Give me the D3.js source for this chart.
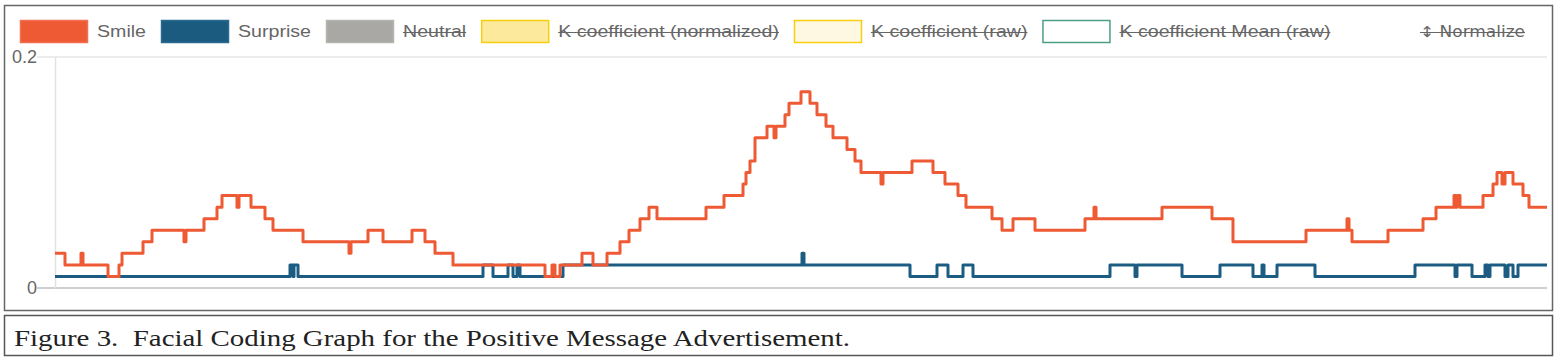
<!DOCTYPE html>
<html><head><meta charset="utf-8">
<script src="https://cdn.jsdelivr.net/npm/d3@7"></script>
<style>body{margin:0;background:#fff} svg{display:block}</style>
</head><body>
<svg id="c" width="1557" height="362"></svg>
<script>
// ---------- data ----------
const frameCount = 1492;
const yTicks = [0, 0.2];
const yTickLabels = ["0", "0.2"];
const legendLabels = ["Smile", "Surprise", "Neutral", "K coefficient (normalized)", "K coefficient (raw)", "K coefficient Mean (raw)"];
const legendHidden = [false, false, true, true, true, true];
const normalizeLabel = "↕ Normalize";
const captionText = "Figure 3.  Facial Coding Graph for the Positive Message Advertisement.";

const smileFrames = [0,10,26,28,53,64,67,88,97,129,131,149,162,167,182,184,196,210,218,248,294,296,313,328,357,370,380,398,490,497,500,505,527,538,552,565,574,585,594,602,651,669,688,691,695,700,712,719,721,730,734,746,755,762,771,778,792,800,806,826,828,857,878,890,903,911,937,947,958,980,1030,1039,1041,1107,1157,1178,1251,1292,1294,1297,1333,1368,1381,1399,1401,1402,1405,1428,1438,1442,1447,1450,1458,1468,1474,1492];
const smileValues = [0.03,0.02,0.03,0.02,0.01,0.02,0.03,0.04,0.05,0.04,0.05,0.06,0.07,0.08,0.07,0.08,0.07,0.06,0.05,0.04,0.03,0.04,0.05,0.04,0.05,0.04,0.03,0.02,0.01,0.02,0.01,0.02,0.03,0.02,0.03,0.04,0.05,0.06,0.07,0.06,0.07,0.08,0.09,0.10,0.11,0.13,0.14,0.13,0.14,0.15,0.16,0.17,0.16,0.15,0.14,0.13,0.12,0.11,0.10,0.09,0.10,0.11,0.10,0.09,0.08,0.07,0.06,0.05,0.06,0.05,0.06,0.07,0.06,0.07,0.06,0.04,0.05,0.06,0.05,0.04,0.05,0.06,0.07,0.08,0.07,0.08,0.07,0.08,0.09,0.10,0.09,0.10,0.09,0.08,0.07,0.07];

const surpriseFrames = [0,235,238,239,243,428,438,453,458,462,465,508,747,749,855,882,893,908,918,1055,1080,1082,1127,1165,1198,1207,1209,1222,1260,1360,1400,1402,1417,1430,1433,1435,1450,1453,1458,1463,1492];
const surpriseValues = [0.01,0.02,0.01,0.02,0.01,0.02,0.01,0.02,0.01,0.02,0.01,0.02,0.03,0.02,0.01,0.02,0.01,0.02,0.01,0.02,0.01,0.02,0.01,0.02,0.01,0.02,0.01,0.02,0.01,0.02,0.01,0.02,0.01,0.02,0.01,0.02,0.01,0.02,0.01,0.02,0.02];

// ---------- styles ----------
const legendFill = ["#EE5A34", "#1B5B80", "#A9A8A4", "#FDE99B", "#FEF7E2", "#FFFFFF"];
const legendStroke = ["#F07050", "#2A6B90", "#B5B4B0", "#F5CF10", "#F5CF10", "#4D9E87"];
const smileColor = "#EE5A34";
const surpriseColor = "#1C5C82";
const textColor = "#666";

const svg = d3.select("#c");

// frames
svg.append("rect").attr("x", 4.5).attr("y", 5.5).attr("width", 1548).attr("height", 305)
  .attr("fill", "#fff").attr("stroke", "#666").attr("stroke-width", 1.5);
svg.append("rect").attr("x", 4.5).attr("y", 315.5).attr("width", 1548).attr("height", 40)
  .attr("fill", "#fff").attr("stroke", "#555").attr("stroke-width", 1.5);

// scales
const x = d3.scaleLinear().domain([0, frameCount]).range([55, 1547]);
const y = d3.scaleLinear().domain([0, 0.2]).range([288, 57]);

// grid
svg.append("g").selectAll("line").data(yTicks).join("line")
  .attr("x1", 37).attr("x2", x(frameCount))
  .attr("y1", d => y(d)).attr("y2", d => y(d))
  .attr("stroke", d => d === 0 ? "#cfcfcf" : "#e6e6e6")
  .attr("stroke-width", d => d === 0 ? 2 : 1.5);

// axis
const axis = d3.axisLeft(y).tickValues(yTicks).tickSize(0).tickPadding(18)
  .tickFormat((d, i) => yTickLabels[i]);
const ag = svg.append("g").attr("transform", `translate(${x(0)},0)`).call(axis);
ag.select(".domain").attr("stroke", "#e2e2e2").attr("stroke-width", 1.5);
ag.selectAll("text").attr("fill", textColor).style("font-family", "'Liberation Sans', Arial, sans-serif").style("font-size", "18px");

// lines
const line = d3.line().x(d => x(d[0])).y(d => y(d[1])).curve(d3.curveStepAfter);
const surpriseData = surpriseFrames.map((f, i) => [f, surpriseValues[i]]);
const smileData = smileFrames.map((f, i) => [f, smileValues[i]]);
svg.append("path").datum(surpriseData).attr("d", line).attr("fill", "none")
  .attr("stroke", surpriseColor).attr("stroke-width", 3).attr("stroke-linejoin", "round");
svg.append("path").datum(smileData).attr("d", line).attr("fill", "none")
  .attr("stroke", smileColor).attr("stroke-width", 3).attr("stroke-linejoin", "round");

// legend
const lg = svg.append("g").style("font-family", "'Liberation Sans', Arial, sans-serif").style("font-size", "16px");
let lx = 20;
const stretch = 1.225;
legendLabels.forEach((name, i) => {
  lg.append("rect").attr("x", lx + 0.5).attr("y", 20.5).attr("width", 67).attr("height", 22)
    .attr("fill", legendFill[i]).attr("stroke", legendStroke[i]).attr("stroke-width", 1.5);
  const tx = lx + 77;
  const t = lg.append("text").attr("x", tx).attr("y", 37).attr("fill", textColor).text(name);
  const w = t.node().getComputedTextLength() * stretch;
  t.attr("textLength", w).attr("lengthAdjust", "spacingAndGlyphs");
  if (legendHidden[i]) {
    lg.append("line").attr("x1", tx).attr("x2", tx + w).attr("y1", 32.5).attr("y2", 32.5)
      .attr("stroke", textColor).attr("stroke-width", 1.2);
  }
  lx = tx + w + 15;
});
{
  const t = lg.append("text").attr("x", 1525).attr("y", 37).attr("fill", textColor)
    .attr("text-anchor", "end").style("font-family", "'DejaVu Sans', sans-serif").style("font-size", "15px")
    .text(normalizeLabel);
  t.attr("textLength", 105).attr("lengthAdjust", "spacingAndGlyphs");
  lg.append("line").attr("x1", 1420).attr("x2", 1525).attr("y1", 32.5).attr("y2", 32.5)
    .attr("stroke", textColor).attr("stroke-width", 1.2);
}

// caption
svg.append("text").attr("x", 14).attr("y", 346)
  .style("font-family", "'Liberation Serif', 'Times New Roman', serif").style("font-size", "24px")
  .attr("fill", "#222").attr("textLength", 836).attr("lengthAdjust", "spacingAndGlyphs")
  .style("white-space", "pre")
  .text(captionText);
</script>
</body></html>
